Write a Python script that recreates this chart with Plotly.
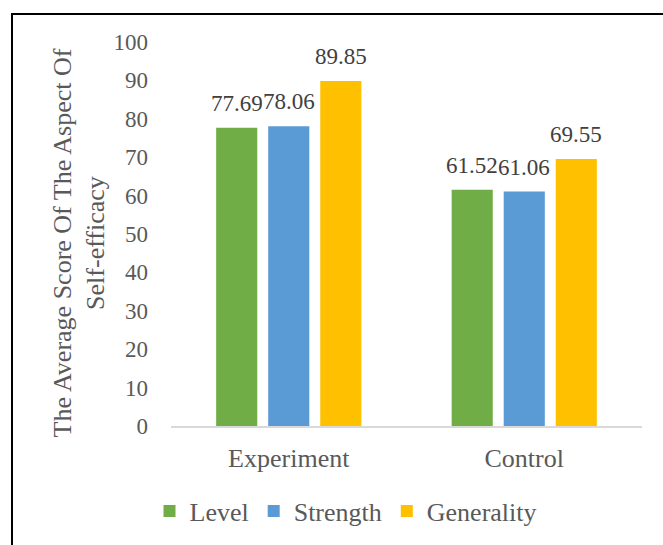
import plotly.graph_objects as go

# Average self-efficacy aspect scores by group
groups = ["Experiment", "Control"]
series_names = ["Level", "Strength", "Generality"]
level = [77.69, 61.52]
strength = [78.06, 61.06]
generality = [89.85, 69.55]
y_ticks = [0, 10, 20, 30, 40, 50, 60, 70, 80, 90, 100]
y_title = "The Average Score Of The Aspect Of<br>Self-efficacy"

series_values = [level, strength, generality]
colors = ["#70AD47", "#5B9BD5", "#FFC000"]

FONT = "Liberation Serif"
AXIS_GREY = "#595959"
LABEL_GREY = "#404040"

W, H = 663, 545
M = dict(l=171, r=21, t=42, b=118)
BARGAP = 0.337
BARGROUPGAP = 0.21

fig = go.Figure()
for name, vals, col in zip(series_names, series_values, colors):
    fig.add_trace(go.Bar(
        name=name, x=groups, y=vals,
        marker=dict(color=col, line=dict(width=0)),
    ))

# pixel -> paper coordinate helpers
pw = W - M["l"] - M["r"]
ph = H - M["t"] - M["b"]
def px_to_paper_x(px):
    return (px - M["l"]) / pw
def px_to_paper_y(py):
    return (H - M["b"] - py) / ph

# value labels above each bar, offset to the bar's slot within its group
n = len(series_names)
slot = (1 - BARGAP) / n
annotations = []
for i, vals in enumerate(series_values):
    for j, v in enumerate(vals):
        annotations.append(dict(
            x=j + (i - (n - 1) / 2) * slot, y=v, xref="x", yref="y",
            text=f"{v:.2f}", showarrow=False,
            xanchor="center", yanchor="bottom", yshift=10,
            font=dict(family=FONT, size=23, color=LABEL_GREY),
        ))

# rotated two-line value-axis title
annotations.append(dict(
    x=px_to_paper_x(79), y=px_to_paper_y(244), xref="paper", yref="paper",
    text=y_title, showarrow=False, textangle=-90,
    xanchor="center", yanchor="middle",
    font=dict(family=FONT, size=26, color=AXIS_GREY),
))

# outer frame around the chart area
frame = dict(
    type="rect", xref="paper", yref="paper",
    x0=px_to_paper_x(12), x1=px_to_paper_x(720),
    y0=px_to_paper_y(620), y1=px_to_paper_y(14),
    line=dict(color="black", width=2), fillcolor="rgba(0,0,0,0)",
    layer="above",
)

fig.update_layout(
    width=W, height=H,
    margin=M,
    paper_bgcolor="white", plot_bgcolor="white",
    barmode="group", bargap=BARGAP, bargroupgap=BARGROUPGAP,
    font=dict(family=FONT, size=23, color=AXIS_GREY),
    xaxis=dict(
        showgrid=False, showline=True, linecolor="#D9D9D9", linewidth=1.5,
        ticks="", ticklabelstandoff=8,
        tickfont=dict(family=FONT, size=26, color=AXIS_GREY),
    ),
    yaxis=dict(
        range=[0, 100], tickvals=y_ticks, showgrid=False, zeroline=False,
        showline=False, ticks="", ticklabelstandoff=22,
        tickfont=dict(family=FONT, size=23, color=AXIS_GREY),
    ),
    legend=dict(
        orientation="h", xref="paper", yref="paper",
        x=px_to_paper_x(346), xanchor="center",
        y=px_to_paper_y(511), yanchor="middle",
        font=dict(family=FONT, size=26, color=AXIS_GREY),
        itemwidth=30, traceorder="normal",
    ),
    annotations=annotations,
    shapes=[frame],
    showlegend=True,
)

fig.write_html("out.html")
